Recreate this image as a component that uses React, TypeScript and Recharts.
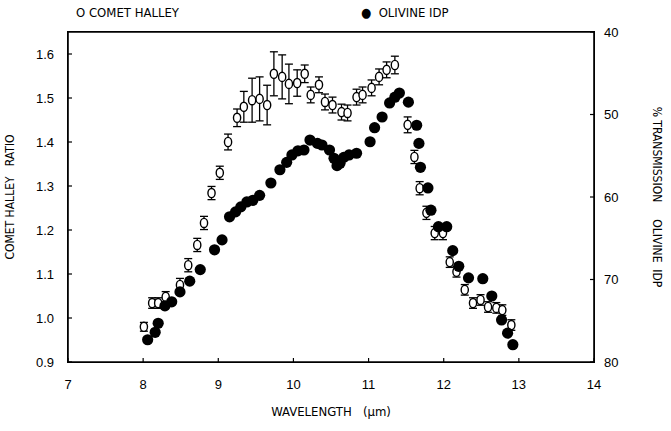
import { ComposedChart, Scatter, XAxis, YAxis, ErrorBar } from 'recharts';

// Comet Halley ratio (open circles) with error bars
const halleyWave = [
  8.01, 8.12, 8.2, 8.3, 8.49, 8.6, 8.72, 8.81, 8.91, 9.02, 9.13, 9.25, 9.34, 9.45, 9.55, 9.65,
  9.74, 9.85, 9.94, 10.05, 10.15, 10.23, 10.34, 10.42, 10.52, 10.64, 10.72, 10.84, 10.92, 11.04,
  11.14, 11.24, 11.35, 11.52, 11.61, 11.68, 11.77, 11.88, 11.99, 12.08, 12.17, 12.28, 12.39,
  12.49, 12.59, 12.7, 12.78, 12.9,
];
const halleyRatio = [
  0.98, 1.034, 1.034, 1.048, 1.075, 1.12, 1.166, 1.216, 1.284, 1.33, 1.4, 1.455, 1.48, 1.495,
  1.498, 1.484, 1.555, 1.548, 1.532, 1.534, 1.555, 1.507, 1.53, 1.491, 1.484, 1.468, 1.466,
  1.502, 1.507, 1.523, 1.548, 1.564, 1.575, 1.439, 1.366, 1.295, 1.239, 1.193, 1.193, 1.127,
  1.105, 1.064, 1.034, 1.041, 1.025, 1.023, 1.018, 0.984,
];
const halleyErr = [
  0.01, 0.012, 0.012, 0.012, 0.015, 0.015, 0.015, 0.015, 0.015, 0.015, 0.018, 0.02, 0.035, 0.05,
  0.05, 0.045, 0.05, 0.05, 0.045, 0.03, 0.02, 0.018, 0.018, 0.018, 0.018, 0.018, 0.018, 0.018,
  0.018, 0.018, 0.018, 0.018, 0.02, 0.018, 0.015, 0.015, 0.015, 0.015, 0.015, 0.012, 0.012,
  0.012, 0.012, 0.012, 0.012, 0.012, 0.012, 0.012,
];

// Olivine IDP % transmission (filled circles)
const olivineWave = [
  8.06, 8.16, 8.2, 8.29, 8.38, 8.49, 8.62, 8.76, 8.95, 9.05, 9.15, 9.23, 9.3, 9.38, 9.46, 9.55,
  9.7, 9.82, 9.91, 9.98, 10.06, 10.14, 10.22, 10.32, 10.38, 10.48, 10.54, 10.58, 10.62, 10.67,
  10.74, 10.84, 11.02, 11.08, 11.18, 11.28, 11.35, 11.41, 11.53, 11.64, 11.67, 11.69, 11.79,
  11.83, 11.93, 12.04, 12.12, 12.2, 12.33, 12.52, 12.64, 12.77, 12.85, 12.92,
];
const olivineTrans = [
  77.3, 76.4, 75.3, 73.2, 72.7, 71.5, 70.2, 68.8, 66.4, 65.2, 62.4, 61.8, 61.2, 60.6, 60.4, 59.8,
  58.3, 56.7, 55.8, 54.9, 54.4, 54.3, 53.1, 53.5, 53.7, 54.3, 55.3, 56.2, 55.9, 55.2, 54.9, 54.7,
  53.3, 51.6, 50.3, 48.6, 47.9, 47.4, 48.5, 51.3, 53.5, 56.4, 58.9, 61.6, 63.6, 63.6, 66.5, 68.4,
  69.8, 69.9, 72.0, 74.9, 76.5, 77.9,
];

const xTicks = [7, 8, 9, 10, 11, 12, 13, 14];
const ratioTicks = [0.9, 1.0, 1.1, 1.2, 1.3, 1.4, 1.5, 1.6];
const transTicks = [40, 50, 60, 70, 80];

const halley = halleyWave.map((w, i) => ({ w, r: halleyRatio[i], err: halleyErr[i] }));
const olivine = olivineWave.map((w, i) => ({ w, t: olivineTrans[i] }));

const font = 'Arial, "Liberation Sans", sans-serif';
const narrow = '"Liberation Sans Narrow", "DejaVu Sans Condensed", Arial, sans-serif';
const sp = '\u00a0';

// chart box
const W = 671;
const H = 431;
const margin = { top: 31, right: 12, bottom: 13, left: 8 };
const leftW = 60;
const rightW = 65;
const bottomH = 56;
const topH = 1;
const plot = {
  left: margin.left + leftW,
  top: margin.top + topH,
  right: W - margin.right - rightW,
  bottom: H - margin.bottom - bottomH,
};

const OpenDot = (props: any) => (
  <ellipse cx={props.cx} cy={props.cy} rx={3.6} ry={4.6} fill="#fff" stroke="#000" strokeWidth={1.4} />
);
const FilledDot = (props: any) => <circle cx={props.cx} cy={props.cy} r={5.6} fill="#000" />;

const labelStyle = { fontFamily: narrow, fontSize: 12, fill: '#000' };
const axisLine = { stroke: '#000', strokeWidth: 1.6 };
const tickLine = { stroke: '#000', strokeWidth: 1.2 };

export default function App() {
  return (
    <div style={{ position: 'absolute', left: 0, top: 0, width: W, height: H, background: '#fff' }}>
      <ComposedChart width={W} height={H} margin={margin}>
        <XAxis
          dataKey="w"
          type="number"
          domain={[7, 14]}
          ticks={xTicks}
          tickSize={-4}
          tickMargin={22}
          height={bottomH}
          stroke="#000"
          axisLine={axisLine}
          tickLine={tickLine}
          tick={{ fill: '#000', fontSize: 13, fontFamily: font }}
          label={{ value: `WAVELENGTH${sp}${sp}${sp}(μm)`, position: 'insideBottom', offset: 2, style: { ...labelStyle, fontSize: 13 } }}
        />
        <XAxis
          xAxisId="top"
          orientation="top"
          dataKey="w"
          type="number"
          domain={[7, 14]}
          ticks={xTicks}
          tickSize={-4}
          tick={false}
          height={topH}
          stroke="#000"
          axisLine={axisLine}
          tickLine={tickLine}
        />
        <YAxis
          yAxisId="left"
          dataKey="r"
          type="number"
          domain={[0.9, 1.65]}
          ticks={ratioTicks}
          tickFormatter={(v: number) => v.toFixed(1)}
          tickSize={-4}
          tickMargin={18}
          width={leftW}
          stroke="#000"
          axisLine={axisLine}
          tickLine={tickLine}
          tick={{ fill: '#000', fontSize: 13, fontFamily: font }}
          label={{ value: `COMET${sp}HALLEY${sp}${sp}${sp}RATIO`, angle: -90, position: 'insideLeft', offset: 2, style: { ...labelStyle, textAnchor: 'middle' } }}
        />
        <YAxis
          yAxisId="right"
          orientation="right"
          dataKey="t"
          type="number"
          domain={[40, 80]}
          reversed
          ticks={transTicks}
          tickSize={-4}
          tickMargin={14}
          width={rightW}
          stroke="#000"
          axisLine={axisLine}
          tickLine={tickLine}
          tick={{ fill: '#000', fontSize: 13, fontFamily: font }}
          label={{
            value: `%${sp}TRANSMISSION${sp}${sp}${sp}${sp}${sp}OLIVINE${sp}${sp}IDP`,
            angle: 90,
            position: 'insideRight',
            offset: 2,
            style: { ...labelStyle, textAnchor: 'middle' },
          }}
        />
        <Scatter data={halley} yAxisId="left" shape={<OpenDot />} isAnimationActive={false}>
          <ErrorBar dataKey="err" direction="y" width={4} stroke="#000" strokeWidth={1.3} />
        </Scatter>
        <Scatter data={olivine} yAxisId="right" shape={<FilledDot />} isAnimationActive={false} />
      </ComposedChart>
      {/* plot frame */}
      <div
        style={{
          position: 'absolute',
          left: plot.left - 1,
          top: plot.top - 1,
          width: plot.right - plot.left,
          height: plot.bottom - plot.top,
          border: '1.5px solid #000',
          pointerEvents: 'none',
        }}
      />
      <div style={{ position: 'absolute', left: 76, top: 5, fontFamily: narrow, fontSize: 13 }}>O{sp}COMET HALLEY</div>
      <div style={{ position: 'absolute', left: 361, top: 5, fontFamily: narrow, fontSize: 13 }}>●{sp}{sp}OLIVINE IDP</div>
    </div>
  );
}
